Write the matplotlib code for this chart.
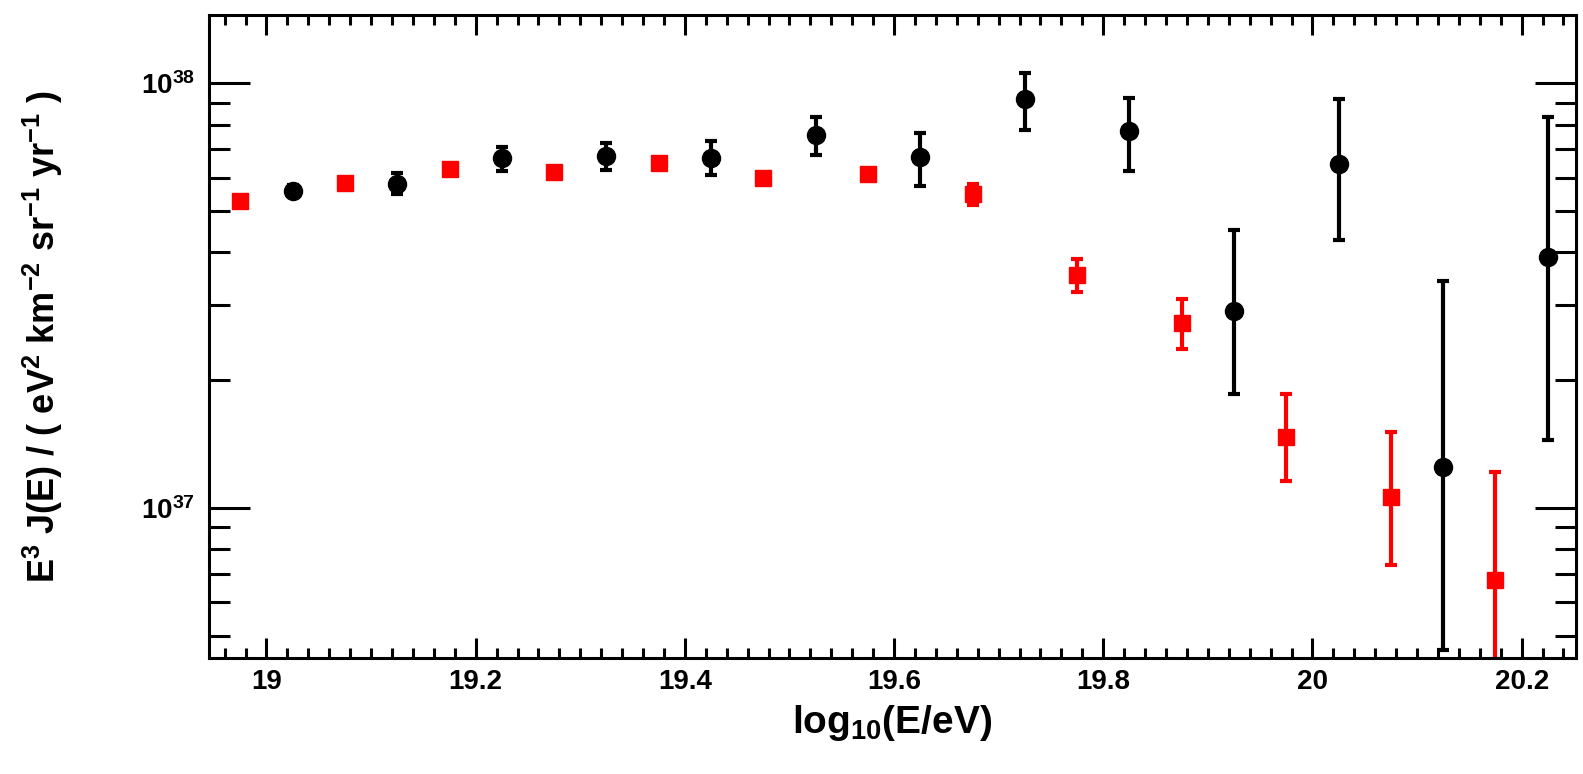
import numpy as np
import matplotlib
matplotlib.use('Agg')
import matplotlib.pyplot as plt
from matplotlib.ticker import MultipleLocator, LogLocator, NullFormatter, FixedLocator

plt.rcParams['font.family'] = ['Liberation Sans', 'DejaVu Sans']
plt.rcParams['font.weight'] = 'bold'
plt.rcParams['mathtext.fontset'] = 'custom'
plt.rcParams['mathtext.rm'] = 'Liberation Sans:bold'
plt.rcParams['mathtext.bf'] = 'Liberation Sans:bold'
plt.rcParams['mathtext.it'] = 'Liberation Sans:bold'

# black circles
x_blk = [19.025, 19.125, 19.225, 19.325, 19.425, 19.525, 19.625,
         19.725, 19.825, 19.925, 20.025, 20.125, 20.225]
y_blk = [5.58e37, 5.81e37, 6.66e37, 6.74e37, 6.68e37, 7.55e37, 6.71e37,
         9.20e37, 7.72e37, 2.91e37, 6.45e37, 1.245e37, 3.90e37]
hi_blk = [5.75e37, 6.16e37, 7.07e37, 7.22e37, 7.31e37, 8.34e37, 7.65e37,
          1.061e38, 9.22e37, 4.51e37, 9.17e37, 3.43e37, 8.32e37]
lo_blk = [5.42e37, 5.49e37, 6.21e37, 6.25e37, 6.10e37, 6.78e37, 5.74e37,
          7.76e37, 6.22e37, 1.853e37, 4.27e37, 4.62e36, 1.444e37]

# red squares
x_red = [18.975, 19.075, 19.175, 19.275, 19.375, 19.475, 19.575,
         19.675, 19.775, 19.875, 19.975, 20.075, 20.175]
y_red = [5.28e37, 5.84e37, 6.29e37, 6.19e37, 6.48e37, 5.98e37, 6.11e37,
         5.49e37, 3.53e37, 2.72e37, 1.466e37, 1.061e37, 6.76e36]
hi_red = [5.38e37, 5.95e37, 6.40e37, 6.30e37, 6.60e37, 6.09e37, 6.22e37,
          5.81e37, 3.85e37, 3.10e37, 1.853e37, 1.51e37, 1.212e37]
lo_red = [5.18e37, 5.73e37, 6.18e37, 6.08e37, 6.36e37, 5.87e37, 6.00e37,
          5.17e37, 3.22e37, 2.37e37, 1.156e37, 7.33e36, 3.5e36]

fig = plt.figure(figsize=(15.83, 7.74), dpi=100)
ax = fig.add_axes([0.132, 0.150, 0.8636, 0.8307])

y_blk = np.array(y_blk)
y_red = np.array(y_red)
err_blk = [y_blk - np.array(lo_blk), np.array(hi_blk) - y_blk]
err_red = [y_red - np.array(lo_red), np.array(hi_red) - y_red]

ax.errorbar(x_blk, y_blk, yerr=err_blk, fmt='o', color='black', ms=13,
            elinewidth=3, capsize=4, capthick=3)
ax.errorbar(x_red, y_red, yerr=err_red, fmt='s', color='red', ms=12,
            elinewidth=3, capsize=4, capthick=3)

ax.set_yscale('log')
ax.set_xlim(18.945, 20.252)
ax.set_ylim(4.43e36, 1.45e38)

ax.xaxis.set_major_locator(MultipleLocator(0.2))
ax.xaxis.set_minor_locator(MultipleLocator(0.02))
ax.set_xticks([19, 19.2, 19.4, 19.6, 19.8, 20, 20.2])
ax.set_xticklabels(['19', '19.2', '19.4', '19.6', '19.8', '20', '20.2'])
ax.yaxis.set_major_locator(FixedLocator([1e37, 1e38]))
ax.set_yticklabels([r'$10^{37}$', r'$10^{38}$'])
ax.yaxis.set_minor_locator(LogLocator(base=10, subs=np.arange(2, 10)))
ax.yaxis.set_minor_formatter(NullFormatter())

for s in ax.spines.values():
    s.set_linewidth(2.2)

ax.tick_params(axis='both', which='both', direction='in', top=True, right=True,
               width=2.2, labelsize=20)
ax.tick_params(axis='x', which='major', length=14.5, pad=8)
ax.tick_params(axis='x', which='minor', length=7.2)
ax.tick_params(axis='y', which='major', length=29.5, pad=10)
ax.tick_params(axis='y', which='minor', length=15)

ax.set_xlabel(r'log$_{10}$(E/eV)', fontsize=28, fontweight='bold')
ax.xaxis.set_label_coords(0.5, -0.07)
ax.set_ylabel(r'E$^{3}$ J(E) / ( eV$^{2}$ km$^{-2}$ sr$^{-1}$ yr$^{-1}$ )',
              fontsize=26, fontweight='bold')
ax.yaxis.set_label_coords(-0.105, 0.5)

fig.savefig('out.png', dpi=100)
